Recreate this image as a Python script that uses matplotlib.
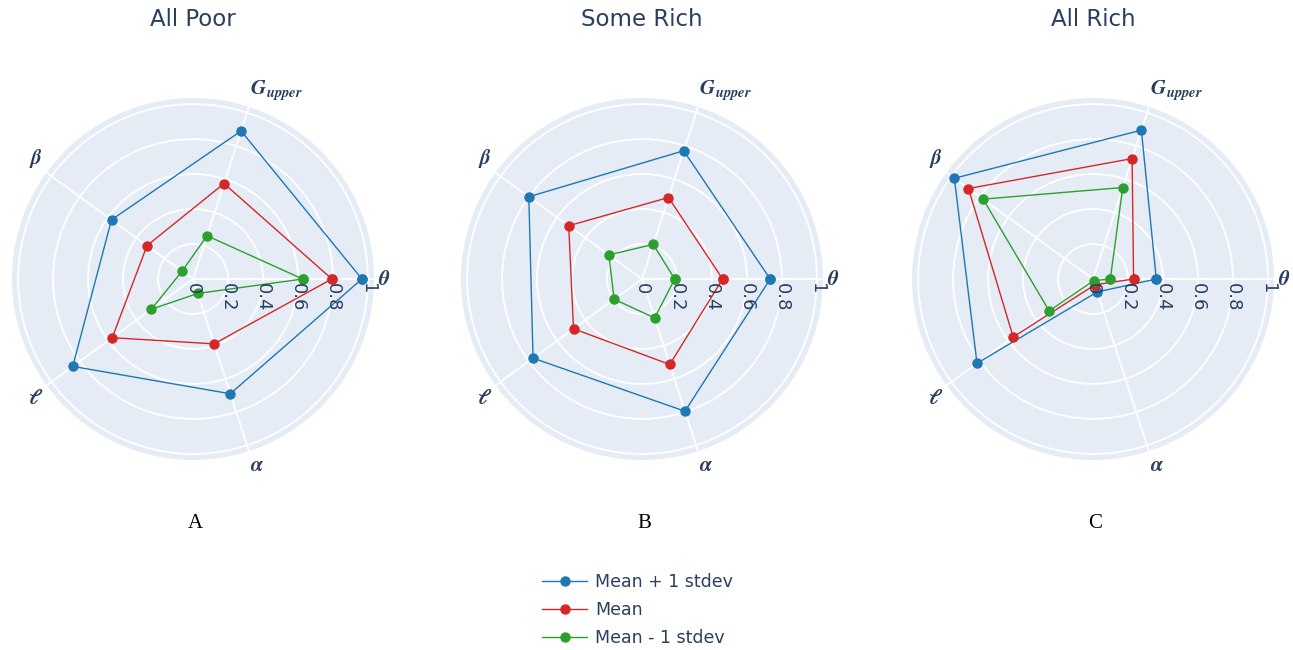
import numpy as np
import matplotlib.pyplot as plt
from matplotlib.transforms import ScaledTranslation

# axis order around the radar, counter-clockwise from 0 deg
categories = [r'$\boldsymbol{\theta}$', r'$\mathbfit{G}_{\mathbfit{upper}}$', r'$\boldsymbol{\beta}$',
              r'$\boldsymbol{\ell}$', r'$\boldsymbol{\alpha}$']
panel_titles = ['All Poor', 'Some Rich', 'All Rich']
panel_letters = ['A', 'B', 'C']
series_names = ['Mean + 1 stdev', 'Mean', 'Mean - 1 stdev']

# values per panel: theta, G_upper, beta, l, alpha
all_poor_plus = [0.966, 0.89, 0.576, 0.85, 0.69]
all_poor_mean = [0.794, 0.574, 0.325, 0.571, 0.39]
all_poor_minus = [0.627, 0.26, 0.077, 0.294, 0.087]

some_rich_plus = [0.733, 0.771, 0.80, 0.77, 0.795]
some_rich_mean = [0.461, 0.49, 0.518, 0.484, 0.514]
some_rich_minus = [0.187, 0.208, 0.234, 0.197, 0.234]

all_rich_plus = [0.362, 0.895, 0.98, 0.82, 0.078]
all_rich_mean = [0.232, 0.724, 0.88, 0.564, 0.035]
all_rich_minus = [0.099, 0.55, 0.777, 0.31, 0.01]

radial_ticks = [0, 0.2, 0.4, 0.6, 0.8, 1]
radial_tick_labels = ['0', '0.2', '0.4', '0.6', '0.8', '1']

panels = [
    [all_poor_plus, all_poor_mean, all_poor_minus],
    [some_rich_plus, some_rich_mean, some_rich_minus],
    [all_rich_plus, all_rich_mean, all_rich_minus],
]
colors = ['#1f77b4', '#d62728', '#2ca02c']
text_color = '#2a3f5f'

plt.rcParams['font.family'] = ['DejaVu Sans']
plt.rcParams['mathtext.fontset'] = 'cm'

W, H = 1293, 650
fig = plt.figure(figsize=(W / 100, H / 100), dpi=100)

angles = np.deg2rad([0, 72, 144, 216, 288])
rmax = 1.035
centers = [193, 642, 1093]
cy = 279
rad_px = 181

handles = []
for k, (cx, data) in enumerate(zip(centers, panels)):
    ax = fig.add_axes([(cx - rad_px) / W, 1 - (cy + rad_px) / H, 2 * rad_px / W, 2 * rad_px / H],
                      projection='polar')
    ax.set_facecolor('#E5ECF6')
    ax.spines['polar'].set_visible(False)
    ax.set_ylim(0, rmax)
    ax.set_xticks(angles)
    ax.set_xticklabels([])
    ax.set_yticks(radial_ticks[1:])
    ax.set_yticklabels([])
    ax.tick_params(length=0)
    ax.grid(color='white', linewidth=1.3)
    ax.set_axisbelow(True)

    for vals, c, name in zip(data, colors, series_names):
        a = np.append(angles, angles[0])
        v = np.append(vals, vals[0])
        ln, = ax.plot(a, v, color=c, linewidth=1.0, marker='o', markersize=6.5,
                      label=name, clip_on=False, zorder=3)
        if k == 0:
            handles.append(ln)

    # radial tick labels along the theta axis, rotated
    off = ScaledTranslation(0, -3 / 72, fig.dpi_scale_trans)
    for r, s in zip(radial_ticks, radial_tick_labels):
        ax.text(0, r, s, rotation=-90, ha='center', va='top', fontsize=13,
                color=text_color, transform=ax.transData + off, zorder=5)

    # category labels outside the circle
    for ang, lab in zip(angles, categories):
        ca, sa = np.cos(ang), np.sin(ang)
        ha = 'left' if ca > 0.1 else ('right' if ca < -0.1 else 'center')
        va = 'center' if abs(sa) < 0.1 else ('bottom' if sa > 0 else 'top')
        mf = 'stix' if 'ell' in lab else 'cm'
        ax.text(ang, 1.06, lab, ha=ha, va=va, fontsize=15, color=text_color,
                clip_on=False, math_fontfamily=mf)

    fig.text(cx / W, 1 - 20 / H, panel_titles[k], ha='center', va='center',
             fontsize=16.5, color=text_color)
    fig.text(cx / W + 2 / W, 1 - 523 / H, panel_letters[k], ha='center', va='center',
             fontsize=15, color='black', family='Liberation Serif')

leg = fig.legend(handles=handles, loc='upper left', bbox_to_anchor=(535 / W, 1 - 566 / H),
                 frameon=False, fontsize=12.5, handlelength=2.6, labelspacing=0.58,
                 handletextpad=0.45, borderaxespad=0)
for t in leg.get_texts():
    t.set_color(text_color)

fig.savefig('out.png', dpi=100, facecolor='white')
